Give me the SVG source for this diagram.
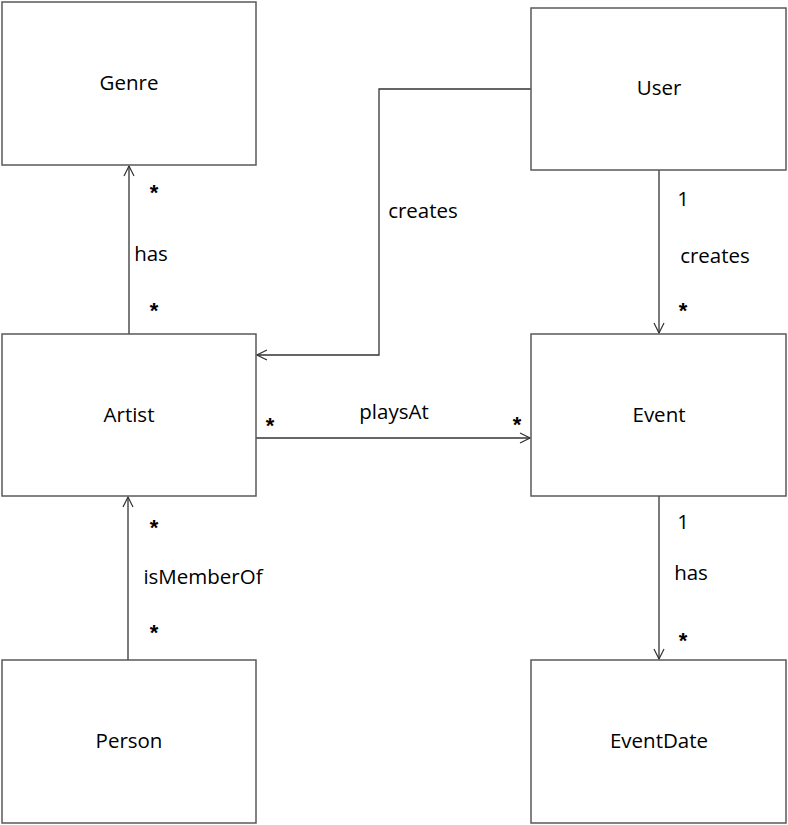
<svg xmlns="http://www.w3.org/2000/svg" width="788" height="825" viewBox="0 0 788 825">
<style>
.box{fill:#fff;stroke:#595959;stroke-width:1.5}
.lbl{font-family:"Open Sans","Noto Sans",sans-serif;font-size:20.5px;fill:#000;text-anchor:middle}
.ln{fill:none;stroke:#333;stroke-width:1.3}
.m{font-family:"Liberation Sans",sans-serif;font-size:22px;font-weight:bold;fill:#000;text-anchor:middle}
</style>
<defs>
<marker id="arr" viewBox="0 0 12 12" refX="11" refY="6" markerWidth="12" markerHeight="12" markerUnits="userSpaceOnUse" orient="auto">
<path d="M1,1 L11,6 L1,11" fill="none" stroke="#333" stroke-width="1.2"/>
</marker>
</defs>
<rect width="788" height="825" fill="#fff"/>
<g id="connectors">
<line class="ln" x1="129" y1="334" x2="129" y2="166" marker-end="url(#arr)"/>
<polyline class="ln" points="531,89 379,89 379,355 257,355" marker-end="url(#arr)"/>
<line class="ln" x1="659" y1="170" x2="659" y2="333" marker-end="url(#arr)"/>
<line class="ln" x1="256" y1="438" x2="530" y2="438" marker-end="url(#arr)"/>
<line class="ln" x1="128" y1="660" x2="128" y2="497" marker-end="url(#arr)"/>
<line class="ln" x1="659" y1="496" x2="659" y2="659" marker-end="url(#arr)"/>
<text class="m" x="154" y="200">*</text>
<text class="lbl" x="151" y="261">has</text>
<text class="m" x="154" y="318">*</text>
<text class="lbl" x="423" y="218">creates</text>
<text class="lbl" x="683" y="206">1</text>
<text class="lbl" x="715" y="263">creates</text>
<text class="m" x="683" y="318">*</text>
<text class="m" x="270" y="433">*</text>
<text class="lbl" x="394" y="419">playsAt</text>
<text class="m" x="517" y="432">*</text>
<text class="m" x="154" y="535">*</text>
<text class="lbl" x="203" y="584">isMemberOf</text>
<text class="m" x="154" y="640">*</text>
<text class="lbl" x="683" y="529">1</text>
<text class="lbl" x="691" y="580">has</text>
<text class="m" x="683" y="648">*</text>
</g>
<g id="genre"><rect class="box" x="2" y="2" width="254" height="163"/><text class="lbl" x="129" y="90">Genre</text></g>
<g id="user"><rect class="box" x="531" y="8" width="255" height="162"/><text class="lbl" x="659" y="95">User</text></g>
<g id="artist"><rect class="box" x="2" y="334" width="254" height="162"/><text class="lbl" x="129" y="422">Artist</text></g>
<g id="event"><rect class="box" x="531" y="334" width="255" height="162"/><text class="lbl" x="659" y="422">Event</text></g>
<g id="person"><rect class="box" x="2" y="660" width="254" height="163"/><text class="lbl" x="129" y="748">Person</text></g>
<g id="eventdate"><rect class="box" x="531" y="660" width="255" height="163"/><text class="lbl" x="659" y="748">EventDate</text></g>
</svg>
